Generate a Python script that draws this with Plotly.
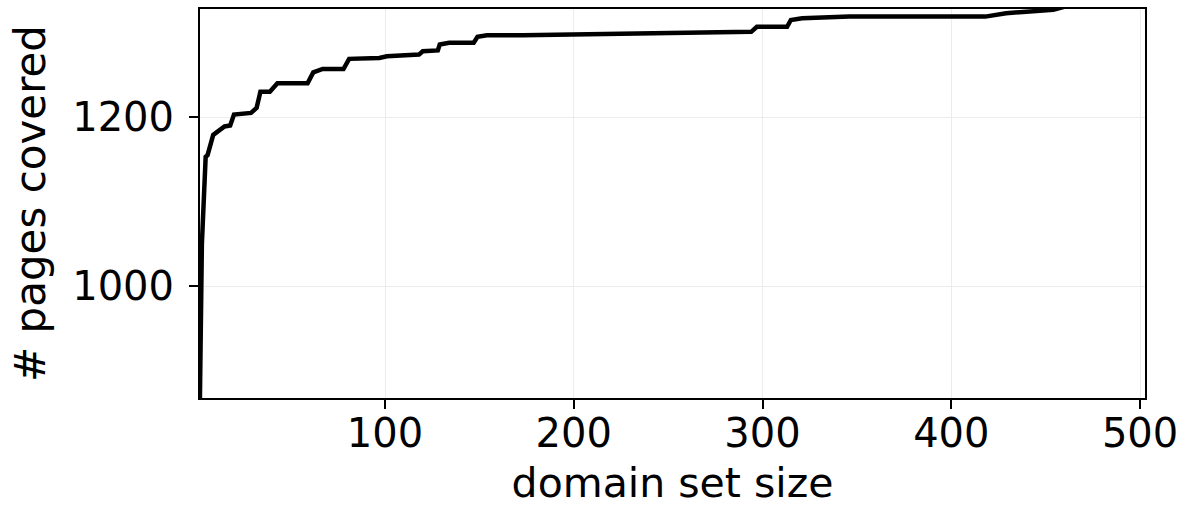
import plotly.graph_objects as go

# Cumulative pages covered as the domain set grows
domain_set_size = [1, 2, 3, 5, 6, 9, 11, 15, 18, 20, 29, 32, 34, 39, 43, 59, 62, 67, 78,
                   81, 97, 101, 118, 120, 128, 129, 134, 147, 149, 154, 173, 203, 228,
                   252, 277, 294, 297, 309, 313, 315, 321, 346, 418, 429, 445, 454, 462]
pages_covered = [700, 880, 1050, 1153, 1155, 1179, 1182, 1189, 1190, 1203, 1205, 1211,
                 1230, 1230, 1240, 1240, 1253, 1257, 1257, 1269, 1270, 1272, 1274, 1278,
                 1279, 1286, 1288, 1288, 1295, 1297, 1297, 1298, 1299, 1300, 1301, 1301,
                 1307, 1307, 1307, 1315, 1317, 1319, 1319, 1323, 1326, 1327, 1332]

x_ticks = [100, 200, 300, 400, 500]
y_ticks = [1000, 1200]

fig = go.Figure(
    go.Scatter(
        x=domain_set_size,
        y=pages_covered,
        mode="lines",
        line=dict(color="black", width=4.5),
        hoverinfo="x+y",
    )
)

axis_style = dict(
    showline=True,
    linecolor="black",
    linewidth=2,
    mirror=True,
    ticks="outside",
    ticklen=9,
    tickwidth=2,
    tickcolor="black",
    showgrid=True,
    gridcolor="#ececec",
    gridwidth=1,
    zeroline=False,
    automargin=False,
    tickfont=dict(size=40),
)

fig.update_layout(
    width=1190,
    height=508,
    margin=dict(l=200, r=45, t=9, b=110),
    plot_bgcolor="white",
    paper_bgcolor="white",
    font=dict(family="DejaVu Sans", size=40, color="black"),
    showlegend=False,
)

fig.update_xaxes(
    range=[2, 502.6],
    tickvals=x_ticks,
    ticklabelstandoff=-10,
    title=dict(text="domain set size", standoff=13, font=dict(size=41)),
    **axis_style,
)
fig.update_yaxes(
    range=[867.5, 1328],
    tickvals=y_ticks,
    ticklabelstandoff=7,
    title=dict(text="# pages covered", standoff=14, font=dict(size=42)),
    **axis_style,
)

fig.write_html("out.html", config={"displayModeBar": False})
